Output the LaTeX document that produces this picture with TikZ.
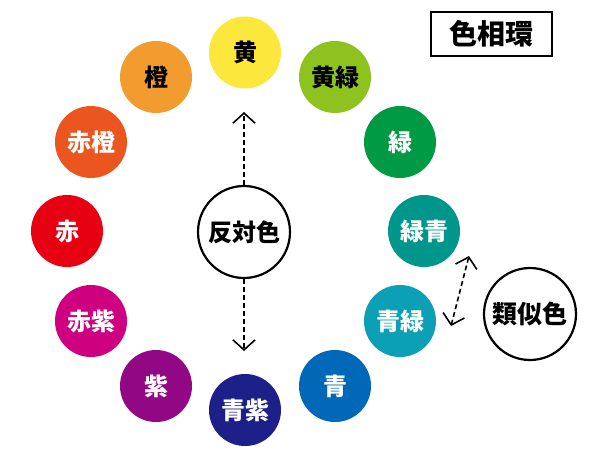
\documentclass[tikz,border=0pt]{standalone}
\usepackage{fontspec}
\setmainfont{Noto Sans CJK JP}
\usetikzlibrary{arrows.meta}
\definecolor{cY}{HTML}{FCE83C}
\definecolor{cYG}{HTML}{8DC21F}
\definecolor{cG}{HTML}{009944}
\definecolor{cGB}{HTML}{00968C}
\definecolor{cBG}{HTML}{0BA0B5}
\definecolor{cB}{HTML}{0068B7}
\definecolor{cBV}{HTML}{1D2088}
\definecolor{cV}{HTML}{920783}
\definecolor{cRV}{HTML}{CF007F}
\definecolor{cR}{HTML}{E60012}
\definecolor{cRO}{HTML}{EA5520}
\definecolor{cO}{HTML}{F29B2E}
\tikzset{
  hue/.style={circle, minimum size=72pt, inner sep=0pt, fill=#1, font=\bfseries\fontsize{24}{24}\selectfont},
  ringlabel/.style={circle, draw=black, line width=2.2pt, minimum size=92pt, inner sep=0pt, fill=white, font=\bfseries\fontsize{24}{24}\selectfont},
  mybarb/.tip={Straight Barb[length=10pt,width=22pt,line width=1.6pt]},
  dasharrow/.style={dashed, dash pattern=on 5pt off 3pt, line width=1.6pt, -{mybarb}},
  dasharrows/.style={dashed, dash pattern=on 5pt off 3pt, line width=1.6pt, {mybarb}-{mybarb}}
}
\begin{document}
\begin{tikzpicture}[x=1pt,y=-1pt]
\useasboundingbox (0,0) rectangle (600,460);
\fill[white] (0,0) rectangle (600,460);
% hue circles
\node[hue=cY, text=black] (y) at (245,52.5) {黄};
\node[hue=cYG, text=black] (yg) at (335,77) {黄緑};
\node[hue=cG, text=white] (g) at (400,142) {緑};
\node[hue=cGB, text=white] (gb) at (424,231) {緑青};
\node[hue=cBG, text=white] (bg) at (400,321) {青緑};
\node[hue=cB, text=white] (b) at (335,386) {青};
\node[hue=cBV, text=white] (bv) at (245,410) {青紫};
\node[hue=cV, text=white] (v) at (156,386) {紫};
\node[hue=cRV, text=white] (rv) at (91,321) {赤紫};
\node[hue=cR, text=white] (r) at (67,231) {赤};
\node[hue=cRO, text=white] (ro) at (91,142) {赤橙};
\node[hue=cO, text=black] (o) at (156,77) {橙};
% opposite colors
\node[ringlabel] (hantai) at (244,232) {反対色};
\coordinate (topend) at (244,112);
\coordinate (botend) at (244,351);
\draw[dasharrow] (hantai.north) -- (topend);
\draw[dasharrow] (hantai.south) -- (botend);
% analogous colors
\node[ringlabel, font=\bfseries\fontsize{25}{25}\selectfont] (ruiji) at (530,314) {類似色};
\coordinate (ra) at (469,256);
\coordinate (rb) at (451,326);
\draw[dasharrows] (ra) -- (rb);
% title
\node[draw=black, line width=1.6pt, minimum width=121pt, minimum height=44pt, inner sep=0pt, font=\bfseries\fontsize{28}{28}\selectfont] (title) at (491.5,34) {色相環};
\end{tikzpicture}
\end{document}
